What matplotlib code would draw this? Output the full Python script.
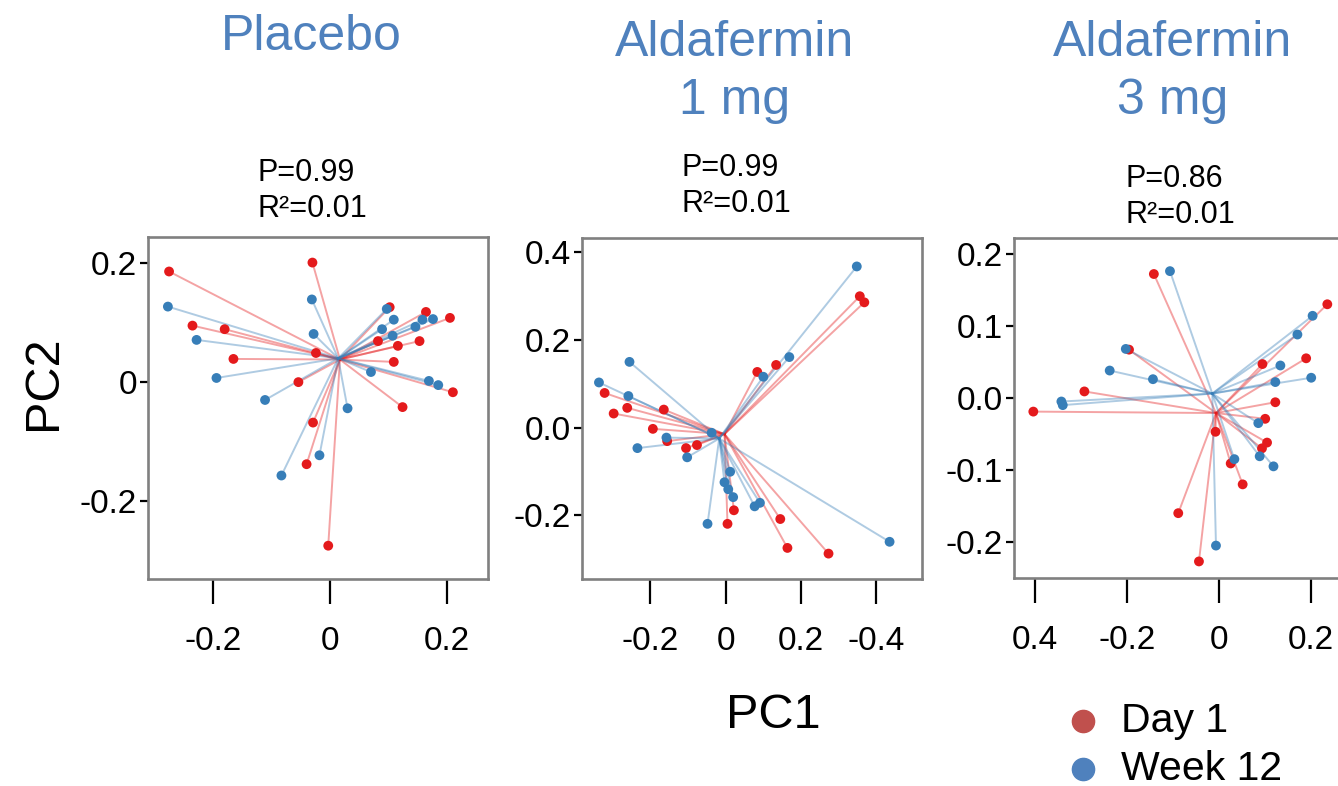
import matplotlib
matplotlib.use("Agg")
import matplotlib.pyplot as plt

plt.rcParams["font.family"] = ["Liberation Sans", "DejaVu Sans"]

W, H = 1338, 786

# ---- data ----
titles = ["Placebo", "Aldafermin\n1 mg", "Aldafermin\n3 mg"]
stats = ["P=0.99\nR\u00b2=0.01", "P=0.99\nR\u00b2=0.01", "P=0.86\nR\u00b2=0.01"]

# Placebo
pbo_d1_x = [-0.275, -0.030, -0.235, -0.180, -0.165, -0.024, -0.054, -0.029, -0.040, -0.003,
            0.102, 0.164, 0.205, 0.082, 0.116, 0.153, 0.109, 0.210, 0.124]
pbo_d1_y = [0.186, 0.201, 0.095, 0.089, 0.039, 0.049, 0.000, -0.068, -0.138, -0.275,
            0.126, 0.118, 0.108, 0.069, 0.061, 0.069, 0.034, -0.017, -0.042]
pbo_w12_x = [-0.277, -0.228, -0.194, -0.111, -0.083, -0.018, 0.030, -0.031, -0.028, 0.097,
             0.109, 0.089, 0.107, 0.158, 0.176, 0.146, 0.070, 0.169, 0.185]
pbo_w12_y = [0.127, 0.071, 0.007, -0.030, -0.157, -0.123, -0.044, 0.139, 0.081, 0.123,
             0.105, 0.089, 0.078, 0.105, 0.106, 0.093, 0.017, 0.002, -0.005]
pbo_center_d1 = (0.017, 0.038)
pbo_center_w12 = (0.014, 0.040)

# Aldafermin 1 mg
a1_d1_x = [0.356, 0.368, 0.134, 0.084, -0.321, -0.261, -0.297, -0.164, -0.193, -0.155,
           -0.105, -0.076, 0.022, 0.005, 0.145, 0.164, 0.273]
a1_d1_y = [0.300, 0.286, 0.143, 0.127, 0.079, 0.045, 0.032, 0.041, -0.003, -0.031,
           -0.047, -0.040, -0.189, -0.220, -0.209, -0.275, -0.288]
a1_w12_x = [0.348, 0.169, 0.100, -0.255, -0.336, -0.258, -0.157, -0.234, -0.102, -0.037,
            0.012, -0.003, 0.007, 0.020, 0.077, 0.091, -0.048, 0.435]
a1_w12_y = [0.368, 0.161, 0.116, 0.150, 0.103, 0.072, -0.023, -0.047, -0.068, -0.012,
            -0.101, -0.125, -0.141, -0.159, -0.180, -0.172, -0.220, -0.261]
a1_center_d1 = (-0.003, -0.015)
a1_center_w12 = (-0.017, -0.025)

# Aldafermin 3 mg
a3_d1_x = [-0.142, -0.196, -0.293, -0.404, 0.235, 0.189, 0.094, 0.122, 0.100, 0.104,
           0.093, -0.008, 0.025, 0.051, -0.089, -0.044]
a3_d1_y = [0.172, 0.067, 0.009, -0.019, 0.130, 0.055, 0.047, -0.006, -0.029, -0.062,
           -0.070, -0.047, -0.091, -0.120, -0.160, -0.227]
a3_w12_x = [-0.107, -0.203, -0.238, -0.144, -0.343, -0.340, 0.203, 0.170, 0.133, 0.122,
            0.200, 0.085, 0.088, 0.118, 0.033, -0.007]
a3_w12_y = [0.176, 0.068, 0.038, 0.026, -0.005, -0.010, 0.114, 0.088, 0.045, 0.022,
            0.028, -0.035, -0.081, -0.095, -0.085, -0.205]
a3_center_d1 = (-0.007, -0.021)
a3_center_w12 = (-0.015, 0.006)

# ticks as printed in the figure
pbo_xticks, pbo_xlabels = [-0.2, 0, 0.2], ["-0.2", "0", "0.2"]
pbo_yticks, pbo_ylabels = [0.2, 0, -0.2], ["0.2", "0", "-0.2"]
a1_xticks, a1_xlabels = [-0.2, 0, 0.2, 0.4], ["-0.2", "0", "0.2", "-0.4"]
a1_yticks, a1_ylabels = [0.4, 0.2, 0.0, -0.2], ["0.4", "0.2", "0.0", "-0.2"]
a3_xticks, a3_xlabels = [-0.4, -0.2, 0, 0.2], ["0.4", "-0.2", "0", "0.2"]
a3_yticks, a3_ylabels = [0.2, 0.1, 0.0, -0.1, -0.2], ["0.2", "0.1", "0.0", "-0.1", "-0.2"]

RED = "#E41A1C"
BLUE = "#377EB8"
TITLE_BLUE = "#4F81BD"

fig = plt.figure(figsize=(W / 100, H / 100), dpi=100, facecolor="white")


def add_axes_px(left, top, right, bottom):
    return fig.add_axes([left / W, 1 - bottom / H, (right - left) / W, (bottom - top) / H])


panels = [
    dict(box=(148, 237, 488, 579), xlim=(-0.311, 0.27), ylim=(-0.331, 0.244),
         d1=(pbo_d1_x, pbo_d1_y), w12=(pbo_w12_x, pbo_w12_y),
         c1=pbo_center_d1, c12=pbo_center_w12,
         xt=(pbo_xticks, pbo_xlabels), yt=(pbo_yticks, pbo_ylabels)),
    dict(box=(582, 238, 922, 579), xlim=(-0.381, 0.521), ylim=(-0.346, 0.433),
         d1=(a1_d1_x, a1_d1_y), w12=(a1_w12_x, a1_w12_y),
         c1=a1_center_d1, c12=a1_center_w12,
         xt=(a1_xticks, a1_xlabels), yt=(a1_yticks, a1_ylabels)),
    dict(box=(1014, 238, 1354, 578), xlim=(-0.446, 0.293), ylim=(-0.250, 0.222),
         d1=(a3_d1_x, a3_d1_y), w12=(a3_w12_x, a3_w12_y),
         c1=a3_center_d1, c12=a3_center_w12,
         xt=(a3_xticks, a3_xlabels), yt=(a3_yticks, a3_ylabels)),
]

for p in panels:
    ax = add_axes_px(*p["box"])
    for (xs, ys), c, col in [(p["d1"], p["c1"], RED), (p["w12"], p["c12"], BLUE)]:
        for x, y in zip(xs, ys):
            ax.plot([c[0], x], [c[1], y], color=col, alpha=0.4, lw=1.4, zorder=1)
    for (xs, ys), col in [(p["d1"], RED), (p["w12"], BLUE)]:
        ax.scatter(xs, ys, s=50, color=col, edgecolors="none", zorder=2)
    ax.set_xlim(*p["xlim"])
    ax.set_ylim(*p["ylim"])
    ax.set_xticks(p["xt"][0], p["xt"][1])
    ax.set_yticks(p["yt"][0], p["yt"][1])
    ax.tick_params(axis="x", length=18, width=1.6, labelsize=24, pad=16, color="black")
    ax.tick_params(axis="y", length=6, width=1.6, labelsize=24, pad=2, color="black")
    for s in ax.spines.values():
        s.set_color("#808080")
        s.set_linewidth(1.9)

# panel titles
fig.text(311 / W, 1 - 37 / H, titles[0], ha="center", va="center", fontsize=36, color=TITLE_BLUE)
fig.text(735 / W, 1 - 72 / H, titles[1], ha="center", va="center", fontsize=36,
         color=TITLE_BLUE, linespacing=1.36)
fig.text(1173 / W, 1 - 72 / H, titles[2], ha="center", va="center", fontsize=36,
         color=TITLE_BLUE, linespacing=1.36)

# statistics
for x0, yc, s in [(257, 191, stats[0]), (682, 186, stats[1]), (1125, 197, stats[2])]:
    fig.text(x0 / W, 1 - yc / H, s, ha="left", va="center", fontsize=22, linespacing=1.3)

# axis labels
fig.text(44 / W, 1 - 383 / H, "PC2", rotation=90, ha="center", va="center", fontsize=35)
fig.text(773 / W, 1 - 715 / H, "PC1", ha="center", va="center", fontsize=35)

# legend
for yc, col, lab in [(721, "#C0504D", "Day 1"), (769, "#4F81BD", "Week 12")]:
    fig.text(1121 / W, 1 - yc / H, lab, ha="left", va="center", fontsize=29.5)
    fig.add_artist(plt.Line2D([1083 / W], [1 - yc / H], marker="o", markersize=16,
                              color=col, transform=fig.transFigure))

fig.savefig("out.png", dpi=100)
